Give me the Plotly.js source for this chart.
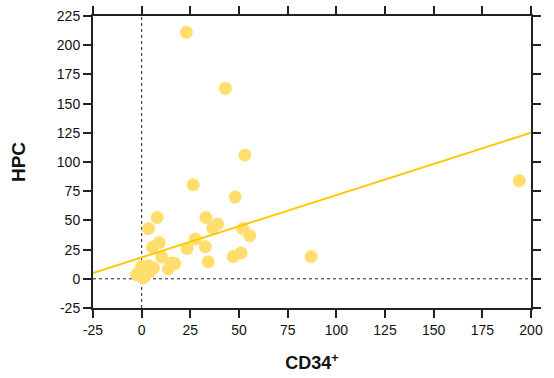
<!DOCTYPE html>
<html>
<head>
<meta charset="utf-8">
<script src="https://cdn.plot.ly/plotly-3.0.1.min.js"></script>
<style>
  html, body { margin: 0; padding: 0; background: #fff; }
  #chart { width: 554px; height: 378px; }
</style>
</head>
<body>
<div id="chart"></div>
<script>
// CD34+ vs HPC counts, one point per sample
const cd34 = [23, 43, 53, 48, 52, 55.5, 51, 47, 87, 194, 26.5, 8, 3.5, 33, 39, 36.5,
              27.5, 23.3, 32.7, 34.2, 9, 5.5, 10.3, 17, 13.7, 15.4, 0, 3.4, 6, -1.7, 0.8, -2.6, 0, 4];
const hpc  = [211, 163, 106, 70, 43, 37, 22, 19, 19, 84, 80.5, 52.5, 43, 52.5, 47, 43.5,
              34, 26, 27.5, 14.6, 31, 27, 18.6, 13, 8.4, 13.5, 10.6, 11.2, 9.2, 5, 0.7, 3.5, 2, 6];

// Linear fit endpoints across the x range
const fitX = [-25, 200];
const fitY = [5, 125];

const xTicks = [-25, 0, 25, 50, 75, 100, 125, 150, 175, 200];
const yTicks = [-25, 0, 25, 50, 75, 100, 125, 150, 175, 200, 225];

const font = 'Liberation Sans, Arial, sans-serif';

const traces = [
  {
    x: cd34, y: hpc, type: 'scatter', mode: 'markers',
    marker: { size: 13, color: '#FFDE6E', line: { width: 0 } },
    hoverinfo: 'x+y'
  },
  {
    x: fitX, y: fitY, type: 'scatter', mode: 'lines',
    line: { color: '#FFC800', width: 2 },
    hoverinfo: 'skip'
  }
];

const axisCommon = {
  showgrid: false, zeroline: false,
  showline: true, linecolor: '#222', linewidth: 2,
  mirror: 'ticks', ticks: 'outside', ticklen: 8, tickwidth: 2, tickcolor: '#222',
  tickfont: { family: font, size: 14, color: '#111' }
};

const layout = {
  width: 554, height: 378,
  margin: { l: 93, r: 23, t: 16, b: 70 },
  paper_bgcolor: '#fff', plot_bgcolor: '#fff',
  showlegend: false,
  xaxis: Object.assign({}, axisCommon, {
    range: [-25, 200], tickvals: xTicks, ticktext: xTicks.map(String),
    title: { text: '<b>CD34<sup>+</sup></b>', font: { family: font, size: 18, color: '#111' }, standoff: 20 }
  }),
  yaxis: Object.assign({}, axisCommon, {
    range: [-25, 225], tickvals: yTicks, ticktext: yTicks.map(String),
    title: { text: '<b>HPC</b>', font: { family: font, size: 19, color: '#111' }, standoff: 26 }
  }),
  shapes: [
    { type: 'line', xref: 'x', yref: 'paper', x0: 0, x1: 0, y0: 0, y1: 1,
      line: { color: '#222', width: 1, dash: '3px,3px' }, layer: 'below' },
    { type: 'line', xref: 'paper', yref: 'y', x0: 0, x1: 1, y0: 0, y1: 0,
      line: { color: '#222', width: 1, dash: '3px,3px' }, layer: 'below' }
  ]
};

Plotly.newPlot('chart', traces, layout, { displayModeBar: false, staticPlot: true });
</script>
</body>
</html>
